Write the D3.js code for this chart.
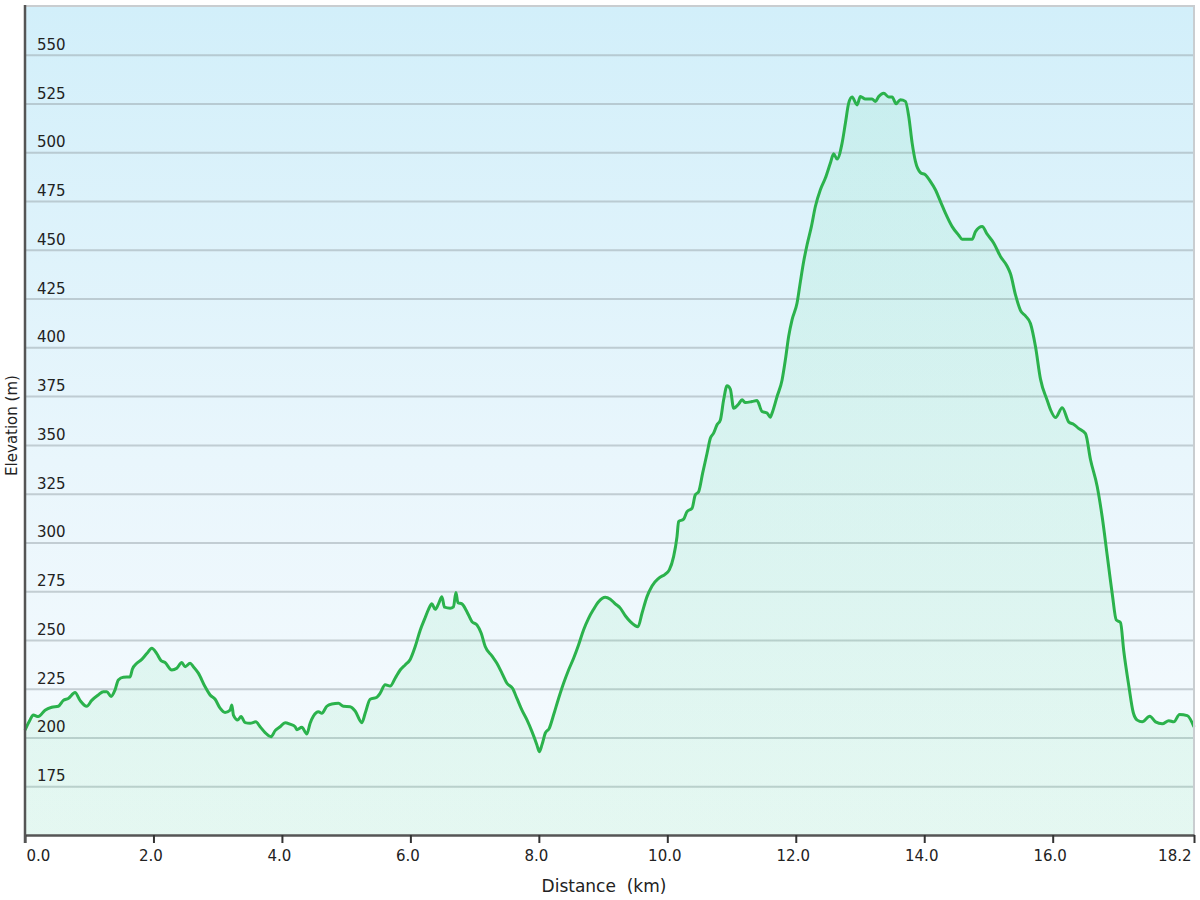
<!DOCTYPE html>
<html><head><meta charset="utf-8">
<script src="https://cdn.jsdelivr.net/npm/d3@7"></script>
<style>
body{margin:0;background:#fff}
svg{display:block}
text{font-family:"DejaVu Sans",Verdana,sans-serif;fill:#222}
</style>
</head><body>
<svg id="chart" width="1200" height="900"></svg>
<script>
// ---- data ----
const distanceKm = [
0.000,0.078,0.129,0.207,0.312,0.416,0.519,0.597,0.674,0.779,0.857,0.961,1.039,1.142,1.220,1.273,1.340,1.402,1.453,1.531,
1.636,1.671,1.740,1.818,1.896,1.974,2.051,2.118,2.181,2.285,2.363,2.441,2.492,2.570,2.621,2.699,2.804,2.882,2.960,3.037,
3.115,3.193,3.220,3.245,3.313,3.364,3.427,3.505,3.593,3.660,3.738,3.832,3.894,3.972,4.050,4.128,4.206,4.232,4.310,4.388,
4.439,4.491,4.569,4.621,4.699,4.777,4.880,4.958,5.062,5.140,5.245,5.296,5.374,5.478,5.530,5.607,5.685,5.763,5.841,5.919,
5.997,6.075,6.153,6.231,6.282,6.335,6.386,6.438,6.491,6.531,6.620,6.671,6.709,6.740,6.802,6.880,6.958,7.036,7.103,7.165,
7.269,7.347,7.425,7.503,7.590,7.659,7.737,7.815,7.893,7.970,8.006,8.048,8.100,8.162,8.229,8.307,8.385,8.463,8.541,8.618,
8.696,8.774,8.852,8.930,9.034,9.112,9.190,9.268,9.346,9.424,9.544,9.606,9.684,9.762,9.865,9.969,10.031,10.098,10.151,10.176,
10.254,10.307,10.385,10.436,10.488,10.550,10.619,10.670,10.721,10.774,10.826,10.877,10.930,10.981,11.033,11.111,11.164,11.215,11.319,11.397,
11.475,11.553,11.604,11.631,11.709,11.787,11.838,11.889,11.942,12.020,12.072,12.123,12.176,12.243,12.305,12.383,12.461,12.539,12.590,12.643,
12.721,12.773,12.824,12.877,12.955,13.006,13.084,13.188,13.240,13.291,13.369,13.447,13.500,13.562,13.629,13.707,13.759,13.812,13.863,13.941,
14.019,14.097,14.174,14.252,14.330,14.435,14.537,14.590,14.746,14.798,14.902,14.980,15.083,15.187,15.291,15.343,15.421,15.498,15.576,15.654,
15.732,15.810,15.914,15.966,16.044,16.148,16.251,16.329,16.402,16.511,16.589,16.693,16.771,16.849,16.927,16.989,17.056,17.107,17.185,17.254,
17.316,17.394,17.512,17.601,17.706,17.808,17.886,17.975,18.095,18.200
];
const elevationM = [
203.8,209.0,211.5,210.7,214.0,215.5,216.0,219.0,220.0,223.0,219.0,216.0,219.0,221.8,223.5,223.5,221.0,224.4,229.5,230.9,
231.0,235.0,238.0,240.0,243.0,245.7,243.0,239.4,238.4,234.6,235.5,238.4,236.3,238.0,236.3,233.0,226.0,221.8,219.6,215.0,
212.8,214.0,216.7,211.5,209.0,210.7,207.6,207.3,208.0,205.5,202.5,200.4,203.5,205.5,207.6,206.8,205.5,204.0,205.2,201.8,
207.3,211.0,213.2,212.4,216.0,217.2,217.5,216.0,215.8,213.6,207.6,212.4,219.6,220.6,222.7,227.0,226.4,230.4,234.6,237.2,
240.0,246.6,255.0,261.5,265.7,268.5,265.7,268.5,272.2,266.8,266.3,267.0,274.3,269.1,268.5,264.5,259.4,257.7,253.4,246.6,
241.8,238.0,233.0,227.8,225.2,220.0,214.0,209.0,203.0,196.2,192.7,196.2,202.2,204.7,211.5,220.0,227.8,234.6,240.6,247.4,
255.1,261.1,265.7,269.6,271.9,270.9,268.5,266.3,262.4,259.4,256.8,263.7,272.2,277.7,281.6,283.8,285.9,292.7,303.0,310.7,
311.9,315.8,317.5,324.4,326.0,335.5,345.7,353.4,356.0,360.3,362.8,373.1,380.3,378.6,368.8,371.0,373.1,371.7,372.2,372.7,
367.1,366.3,364.2,366.3,374.8,383.3,393.6,405.6,414.1,422.7,433.7,444.0,452.6,461.9,472.2,480.8,486.8,494.5,499.2,496.5,
504.7,515.0,525.2,528.3,524.3,528.6,527.3,527.3,526.1,528.6,530.3,528.3,528.3,524.9,527.0,526.1,518.4,504.7,495.3,489.6,
488.4,485.0,480.8,474.8,468.8,461.9,457.5,455.4,455.4,459.3,461.9,458.0,453.4,446.6,441.6,437.7,426.9,419.0,416.1,412.2,
400.4,383.7,372.9,368.0,364.0,369.0,361.7,360.5,358.5,355.8,342.4,328.7,313.0,293.3,273.7,260.3,258.9,244.2,226.5,212.8,
208.9,208.0,210.9,208.0,207.0,208.6,208.0,211.8,211.2,205.4
];
const xTickValues = [0, 2, 4, 6, 8, 10, 12, 14, 16, 18.2];
const yTickValues = [175, 200, 225, 250, 275, 300, 325, 350, 375, 400, 425, 450, 475, 500, 525, 550];
const xDomain = [0, 18.2];
const yDomain = [150, 575];
const xTitle = "Distance\u00a0\u00a0(km)";
const yTitle = "Elevation (m)";

// ---- layout ----
const plot = {left: 25, right: 1194, top: 6, bottom: 835};
const svg = d3.select("#chart");
const x = d3.scaleLinear().domain(xDomain).range([plot.left, plot.right]);
const y = d3.scaleLinear().domain(yDomain).range([plot.bottom, plot.top]);
const pts = distanceKm.map((d, i) => [d, elevationM[i]]);

const defs = svg.append("defs");
const bg = defs.append("linearGradient").attr("id", "bg").attr("x1", 0).attr("y1", 0).attr("x2", 0).attr("y2", 1);
bg.append("stop").attr("offset", "0%").attr("stop-color", "#d2effa");
bg.append("stop").attr("offset", "55%").attr("stop-color", "#e9f6fc");
bg.append("stop").attr("offset", "100%").attr("stop-color", "#f7fbfe");
const ag = defs.append("linearGradient").attr("id", "ag").attr("x1", 0).attr("x2", 0)
  .attr("gradientUnits", "userSpaceOnUse").attr("y1", plot.top).attr("y2", plot.bottom);
ag.append("stop").attr("offset", "0%").attr("stop-color", "#4fdc8a").attr("stop-opacity", 0.10);
ag.append("stop").attr("offset", "100%").attr("stop-color", "#4fdc8a").attr("stop-opacity", 0.11);

// background
svg.append("rect").attr("x", plot.left).attr("y", plot.top)
  .attr("width", plot.right - plot.left).attr("height", plot.bottom - plot.top)
  .attr("fill", "url(#bg)");

// gridlines through axisLeft
const grid = svg.append("g").attr("transform", `translate(${plot.left},0)`)
  .call(d3.axisLeft(y).tickValues(yTickValues).tickSize(-(plot.right - plot.left)).tickFormat(""));
grid.select(".domain").remove();
grid.selectAll(".tick line").attr("stroke", "#98a4aa").attr("stroke-opacity", 0.5).attr("stroke-width", 2);

// area and line
const area = d3.area().x(d => x(d[0])).y0(y(yDomain[0])).y1(d => y(d[1])).curve(d3.curveMonotoneX);
const line = d3.line().x(d => x(d[0])).y(d => y(d[1])).curve(d3.curveMonotoneX);
svg.append("path").datum(pts).attr("d", area).attr("fill", "url(#ag)");
svg.append("path").datum(pts).attr("d", line).attr("fill", "none")
  .attr("stroke", "#2bb24c").attr("stroke-width", 3).attr("stroke-linejoin", "round");

// frame: top and right light border
svg.append("path")
  .attr("d", `M${plot.left},${plot.top}H${plot.right}V${plot.bottom}`)
  .attr("fill", "none").attr("stroke", "#c9cdd0").attr("stroke-width", 2);

// y labels inside the plot
svg.append("g").selectAll("text").data(yTickValues).join("text")
  .attr("x", plot.left + 12).attr("y", d => y(d) - 5)
  .attr("font-size", 15).text(d => d);

// x axis
const xAxis = svg.append("g").attr("transform", `translate(0,${plot.bottom})`)
  .call(d3.axisBottom(x).tickValues(xTickValues).tickSize(8).tickSizeOuter(0).tickFormat(d3.format(".1f")));
xAxis.select(".domain").attr("stroke", "#555").attr("stroke-width", 2.5);
xAxis.selectAll(".tick line").attr("stroke", "#333").attr("stroke-width", 2);
xAxis.selectAll(".tick text").attr("font-size", 15).attr("fill", "#222").attr("y", 15)
  .attr("font-family", "DejaVu Sans, Verdana, sans-serif")
  .attr("text-anchor", (d, i) => i === 0 ? "start" : (i === xTickValues.length - 1 ? "end" : "middle"))
  .attr("dx", (d, i) => i === 0 ? 1 : -3);

// left axis line
svg.append("line").attr("x1", plot.left).attr("x2", plot.left).attr("y1", plot.top - 1).attr("y2", plot.bottom + 8)
  .attr("stroke", "#555").attr("stroke-width", 2.5);

// titles
svg.append("text").attr("x", 604).attr("y", 892)
  .attr("text-anchor", "middle").attr("font-size", 17).text(xTitle);
svg.append("text").attr("transform", `translate(17,${(plot.top + plot.bottom) / 2 + 5}) rotate(-90)`)
  .attr("text-anchor", "middle").attr("font-size", 15).text(yTitle);
</script>
</body></html>
